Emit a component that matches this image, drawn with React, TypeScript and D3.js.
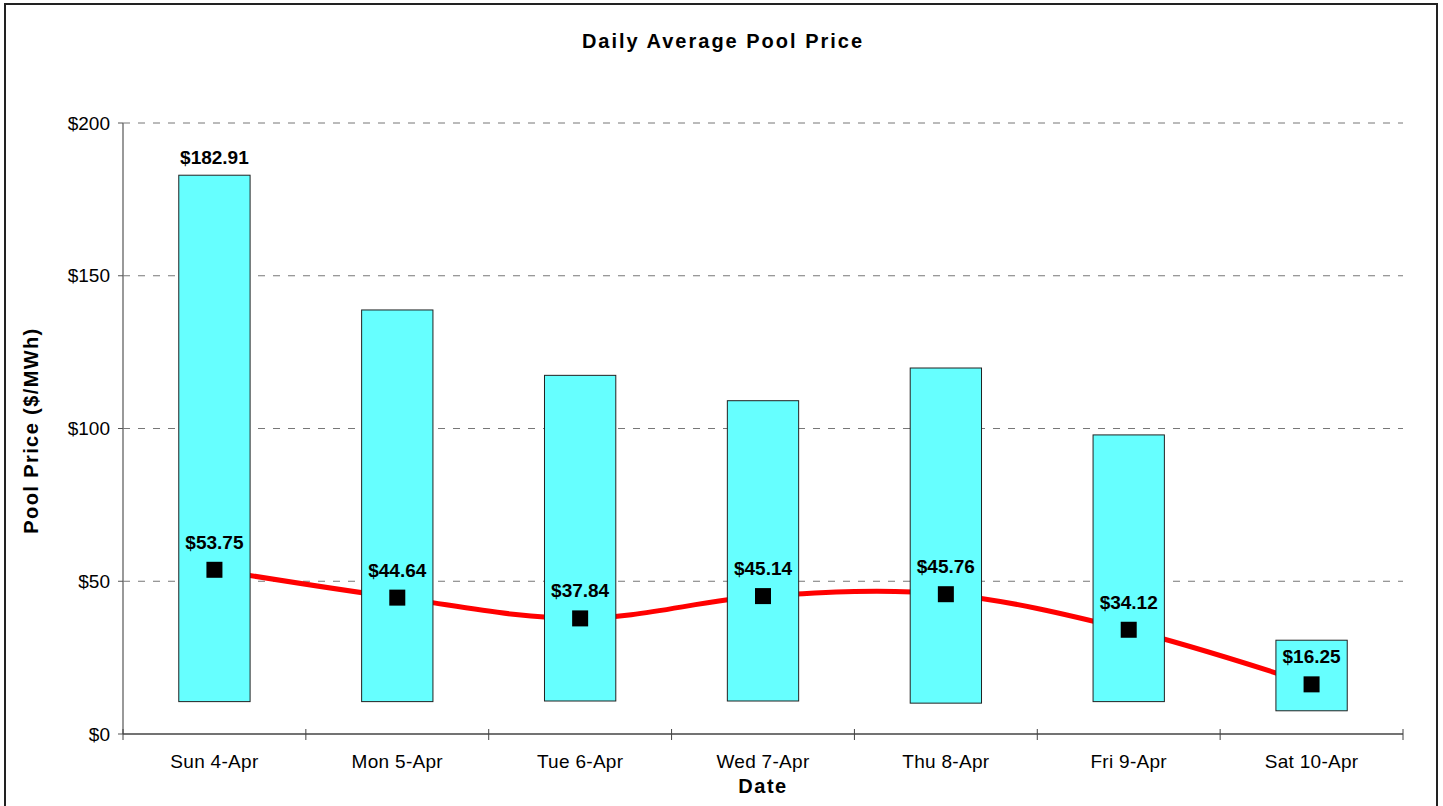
import * as d3 from 'd3';

// Daily range (min/max) with average pool price
const categories = ['Sun 4-Apr', 'Mon 5-Apr', 'Tue 6-Apr', 'Wed 7-Apr', 'Thu 8-Apr', 'Fri 9-Apr', 'Sat 10-Apr'];
const minPrices = [10.6, 10.6, 10.8, 10.8, 10.1, 10.6, 7.6];
const maxPrices = [182.91, 138.8, 117.4, 109.1, 119.8, 97.9, 30.7];
const avgPrices = [53.75, 44.64, 37.84, 45.14, 45.76, 34.12, 16.25];
const yTicks = [0, 50, 100, 150, 200];

const width = 1443;
const height = 806;
const margin = { top: 123, right: 40, bottom: 72, left: 123 };

const font = '"Liberation Sans", Arial, sans-serif';

const App = () => {
    const innerRight = width - margin.right;
    const innerBottom = height - margin.bottom;

    const x = d3.scaleBand<string>()
        .domain(categories)
        .range([margin.left, innerRight])
        .padding(0);

    const y = d3.scaleLinear()
        .domain([0, 200])
        .range([innerBottom, margin.top]);

    const barW = x.bandwidth() * 0.39;
    const cx = (c: string) => (x(c) as number) + x.bandwidth() / 2;

    const line = d3.line<number>()
        .x((_, i) => cx(categories[i]))
        .y(d => y(d))
        .curve(d3.curveCardinal.tension(0));

    const fmt = (v: number) => '$' + v.toFixed(2);

    return (
        <svg width={width} height={height}
            style={{ position: 'absolute', left: 0, top: 0, background: '#fff' }}
            fontFamily={font}>
            {/* chart frame */}
            <rect x={5} y={4} width={1432} height={840} fill="#fff" stroke="#222" strokeWidth={2} />

            {/* title */}
            <text x={723} y={48} textAnchor="middle" fontSize={20} fontWeight="bold" letterSpacing={2}>
                Daily Average Pool Price
            </text>

            {/* grid lines */}
            {yTicks.filter(t => t > 0).map(t => (
                <line key={t} x1={margin.left} x2={innerRight} y1={y(t)} y2={y(t)}
                    stroke="#777" strokeWidth={1} strokeDasharray="7,8" />
            ))}

            {/* y axis */}
            <line x1={margin.left} x2={margin.left} y1={margin.top} y2={innerBottom} stroke="#777" strokeWidth={1.5} />
            {yTicks.map(t => (
                <g key={t}>
                    <line x1={margin.left - 5} x2={margin.left} y1={y(t)} y2={y(t)} stroke="#555" />
                    <text x={110} y={y(t)} dy="0.35em" textAnchor="end" fontSize={19}>${t}</text>
                </g>
            ))}
            <text transform={`translate(38,${(margin.top + innerBottom) / 2 + 2}) rotate(-90)`}
                textAnchor="middle" fontSize={20} fontWeight="bold" letterSpacing={1.4}>
                Pool Price ($/MWh)
            </text>

            {/* x axis */}
            <line x1={margin.left} x2={innerRight} y1={innerBottom} y2={innerBottom} stroke="#444" strokeWidth={1.5} />
            {[...categories.map(c => x(c) as number), innerRight].map((px, i) => (
                <line key={i} x1={px} x2={px} y1={innerBottom - 5} y2={innerBottom + 6} stroke="#444" />
            ))}
            {categories.map(c => (
                <text key={c} x={cx(c)} y={768} textAnchor="middle" fontSize={19} letterSpacing={0.3}>{c}</text>
            ))}
            <text x={763} y={793} textAnchor="middle" fontSize={20} fontWeight="bold" letterSpacing={1.5}>Date</text>

            {/* average line (behind bars) */}
            <path d={line(avgPrices) as string} fill="none" stroke="#ff0000" strokeWidth={5} />

            {/* min-max range bars */}
            {categories.map((c, i) => (
                <rect key={c} x={cx(c) - barW / 2} y={y(maxPrices[i])}
                    width={barW} height={y(minPrices[i]) - y(maxPrices[i])}
                    fill="#66ffff" stroke="#222" strokeWidth={1} />
            ))}

            {/* max label on the first day */}
            <text x={cx(categories[0])} y={y(maxPrices[0]) - 11} textAnchor="middle"
                fontSize={19} fontWeight="bold">{fmt(maxPrices[0])}</text>

            {/* average markers and labels */}
            {categories.map((c, i) => (
                <g key={c}>
                    <rect x={cx(c) - 8} y={y(avgPrices[i]) - 8} width={16} height={16} fill="#000" />
                    <text x={cx(c)} y={y(avgPrices[i]) - 21} textAnchor="middle"
                        fontSize={19} fontWeight="bold">{fmt(avgPrices[i])}</text>
                </g>
            ))}
        </svg>
    );
};

export default App;
